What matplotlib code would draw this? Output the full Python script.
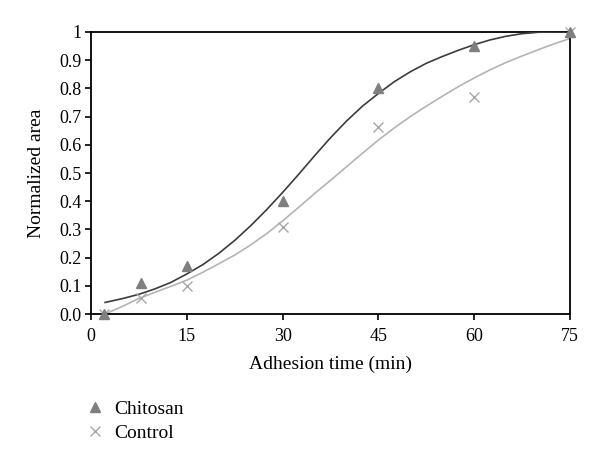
import matplotlib
matplotlib.use("Agg")
import matplotlib.pyplot as plt
from matplotlib.lines import Line2D

plt.rcParams['font.family'] = ['Liberation Serif', 'DejaVu Serif']

# measured points
time_pts = [2, 7.75, 15, 30, 45, 60, 75]
chitosan_pts = [0.0, 0.11, 0.172, 0.40, 0.80, 0.952, 1.0]
control_pts = [0.0, 0.058, 0.10, 0.31, 0.664, 0.77, 1.0]

# fitted curves
curve_x = [2.2, 5, 7.5, 10, 12.5, 15, 17.5, 20, 22.5, 25, 27.5, 30, 32.5, 35, 37.5,
           40, 42.5, 45, 47.5, 50, 52.5, 55, 57.5, 60, 62.5, 65, 67.5, 70, 72.5, 75]
chitosan_curve = [0.041, 0.055, 0.070, 0.089, 0.112, 0.142, 0.175, 0.215, 0.261, 0.313,
                  0.370, 0.431, 0.495, 0.561, 0.625, 0.684, 0.737, 0.782, 0.824, 0.859,
                  0.889, 0.913, 0.935, 0.955, 0.972, 0.985, 0.994, 0.999, 1.0, 1.0]
control_curve = [0.0, 0.028, 0.055, 0.077, 0.098, 0.12, 0.148, 0.178, 0.209, 0.245,
                 0.285, 0.33, 0.378, 0.427, 0.474, 0.522, 0.570, 0.617, 0.660, 0.700,
                 0.737, 0.772, 0.806, 0.837, 0.866, 0.892, 0.915, 0.937, 0.958, 0.977]

x_ticks = [0, 15, 30, 45, 60, 75]
y_ticks = [0.0, 0.1, 0.2, 0.3, 0.4, 0.5, 0.6, 0.7, 0.8, 0.9, 1.0]
y_tick_labels = ['0.0', '0.1', '0.2', '0.3', '0.4', '0.5', '0.6', '0.7', '0.8', '0.9', '1']

fig = plt.figure(figsize=(6.0, 4.65), dpi=100)
ax = fig.add_axes([0.1517, 0.3247, 0.7983, 0.6065])

dark_line = '#3c3c3c'
light_line = '#b4b4b4'
tri_col = '#7f7f7f'
x_col = '#a8a8a8'

ax.plot(curve_x, control_curve, color=light_line, lw=1.2, zorder=2)
ax.plot(curve_x, chitosan_curve, color=dark_line, lw=1.2, zorder=3)
ax.plot(time_pts, control_pts, linestyle='none', marker='x', ms=7, mew=1.0,
        color=x_col, clip_on=False, zorder=4)
ax.plot(time_pts, chitosan_pts, linestyle='none', marker='^', ms=7.5,
        color=tri_col, mec=tri_col, clip_on=False, zorder=5)

ax.set_xlim(0, 75)
ax.set_ylim(0, 1)
ax.set_xticks(x_ticks)
ax.set_yticks(y_ticks)
ax.set_yticklabels(y_tick_labels)
ax.tick_params(direction='out', length=4, width=1.2, labelsize=13, colors='black')
ax.tick_params(axis='x', pad=6)
ax.tick_params(axis='y', pad=3)
for s in ax.spines.values():
    s.set_linewidth(1.3)
    s.set_color('black')

ax.set_xlabel('Adhesion time (min)', fontsize=14, labelpad=8)
ax.set_ylabel('Normalized area', fontsize=14, labelpad=10)

handles = [
    Line2D([], [], linestyle='none', marker='^', ms=7, color=tri_col, label='Chitosan'),
    Line2D([], [], linestyle='none', marker='x', ms=7, mew=1.0, color=x_col, label='Control'),
]
fig.legend(handles=handles, loc='upper left', bbox_to_anchor=(0.12, 0.168),
           frameon=False, fontsize=14, handlelength=1.0, handletextpad=0.45,
           labelspacing=0.3, borderpad=0.2)

fig.savefig('out.png', dpi=100)
